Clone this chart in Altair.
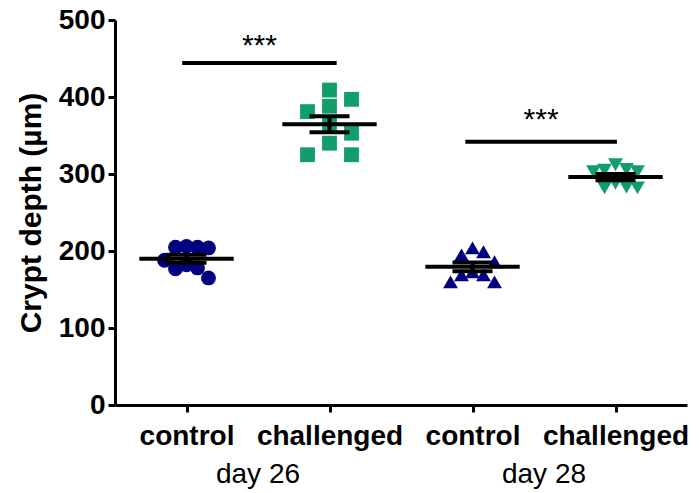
import altair as alt
import pandas as pd
import numpy as np

# ---- data ----
group_keys = ["c26", "ch26", "c28", "ch28"]
group_labels = ["control", "challenged", "control", "challenged"]
group_pos = [1, 2, 3, 4]
day_labels = ["day 26", "day 28"]
day_pos = [1.5, 3.5]

control_d26 = [205, 206, 204, 205, 188, 182, 178, 177, 165]
challenged_d26 = [409, 388, 397, 381, 364, 353, 340, 325, 325]
control_d28 = [199, 195, 204, 186, 173, 169, 169, 160, 160]
challenged_d28 = [312, 306, 305, 303, 303, 288, 283, 282, 282]
values = [control_d26, challenged_d26, control_d28, challenged_d28]

sig_x1 = [0.97, 2.95]
sig_x2 = [2.05, 4.01]
sig_y = [444, 342]
sig_text_y = [455, 358]
sig_text = ["***", "***"]

shapes = ["circle", "square", "triangle-up", "triangle-down"]
colors = ["#000080", "#129E6A", "#000080", "#129E6A"]
min_dx = [11, 22, 11, 11]   # horizontal spacing of the scatter, px

W, H = 572, 385
PX_X = W / 4.0
PX_Y = H / 500.0
FONT = "Liberation Sans"


def swarm(vals, dx_min, dy_min=15.0, step=11.0):
    """Simple column scatter: horizontal offsets (in x units) avoiding overlaps."""
    placed = []
    offs = [0.0] * len(vals)
    order = sorted(range(len(vals)), key=lambda i: -vals[i])
    k_list = [0]
    for k in range(1, 10):
        k_list += [k, -k]
    for i in order:
        y = vals[i] * PX_Y
        x = 0.0
        for k in k_list:
            x = k * step
            if all(abs(x - xo) >= dx_min - 1e-9 or abs(y - yo) >= dy_min
                   for xo, yo in placed):
                break
        placed.append((x, y))
        offs[i] = x / PX_X
    return offs


rows = []
summ = []
for key, pos, vals, dxm in zip(group_keys, group_pos, values, min_dx):
    offs = swarm(vals, dxm)
    for v, o in zip(vals, offs):
        rows.append({"g": key, "x": pos + o, "v": v})
    arr = np.array(vals, dtype=float)
    m = arr.mean()
    sem = arr.std(ddof=1) / np.sqrt(len(arr))
    summ.append({"pos": pos, "mean": m, "lo": m - sem, "hi": m + sem,
                 "mx1": pos - 0.33, "mx2": pos + 0.33,
                 "cx1": pos - 0.14, "cx2": pos + 0.14})
pts = pd.DataFrame(rows)
sm = pd.DataFrame(summ)
sig = pd.DataFrame({"x1": sig_x1, "x2": sig_x2, "y": sig_y,
                    "ty": sig_text_y, "t": sig_text,
                    "xm": [(a + b) / 2 for a, b in zip(sig_x1, sig_x2)]})
days = pd.DataFrame({"x": day_pos, "t": day_labels})

xscale = alt.Scale(domain=[0.5, 4.5], nice=False, zero=False)
yscale = alt.Scale(domain=[0, 500], nice=False)

label_expr = ("datum.value == 1 || datum.value == 3 ? 'control' : "
              "(datum.value == 2 || datum.value == 4 ? 'challenged' : '')")

xaxis = alt.Axis(values=group_pos, labelExpr=label_expr, title=None, grid=False,
                 tickSize=7, tickWidth=3, domainWidth=3, domainColor="black",
                 tickColor="black", labelFont=FONT, labelFontSize=28,
                 labelFontWeight="bold", labelColor="black", labelPadding=10)
yaxis = alt.Axis(values=[0, 100, 200, 300, 400, 500], title="Crypt depth (µm)",
                 grid=False, tickSize=7, tickWidth=3, domainWidth=3,
                 domainColor="black", tickColor="black", labelFont=FONT,
                 labelFontSize=28, labelFontWeight="bold", labelColor="black",
                 labelPadding=3, titleFont=FONT, titleFontSize=30,
                 titleFontWeight="bold", titleColor="black", titlePadding=12)

points = alt.Chart(pts).mark_point(filled=True, opacity=1, size=220).encode(
    x=alt.X("x:Q", scale=xscale, axis=xaxis),
    y=alt.Y("v:Q", scale=yscale, axis=yaxis),
    shape=alt.Shape("g:N", scale=alt.Scale(domain=group_keys, range=shapes), legend=None),
    color=alt.Color("g:N", scale=alt.Scale(domain=group_keys, range=colors), legend=None),
)

vbar = alt.Chart(sm).mark_rule(color="black", strokeWidth=4).encode(
    x="pos:Q", y="lo:Q", y2="hi:Q")
capt = alt.Chart(sm).mark_rule(color="black", strokeWidth=4).encode(
    x="cx1:Q", x2="cx2:Q", y="hi:Q")
capb = alt.Chart(sm).mark_rule(color="black", strokeWidth=4).encode(
    x="cx1:Q", x2="cx2:Q", y="lo:Q")
meanl = alt.Chart(sm).mark_rule(color="black", strokeWidth=4).encode(
    x="mx1:Q", x2="mx2:Q", y="mean:Q")

sigl = alt.Chart(sig).mark_rule(color="black", strokeWidth=4).encode(
    x="x1:Q", x2="x2:Q", y="y:Q")
sigt = alt.Chart(sig).mark_text(font=FONT, fontSize=30, baseline="alphabetic",
                                align="center", color="black").encode(
    x="xm:Q", y="ty:Q", text="t:N")

dayt = alt.Chart(days).mark_text(font=FONT, fontSize=28, baseline="alphabetic",
                                 align="center", color="black").encode(
    x="x:Q", y=alt.value(463), text="t:N")

chart = alt.layer(points, vbar, capt, capb, meanl, sigl, sigt, dayt).properties(
    width=W, height=H,
    autosize=alt.AutoSizeParams(type="none"),
    padding={"left": 115, "top": 20, "right": 12, "bottom": 88},
    background="white",
).configure_view(stroke=None)

chart.save("out.html", embed_options={"renderer": "svg", "actions": False})
